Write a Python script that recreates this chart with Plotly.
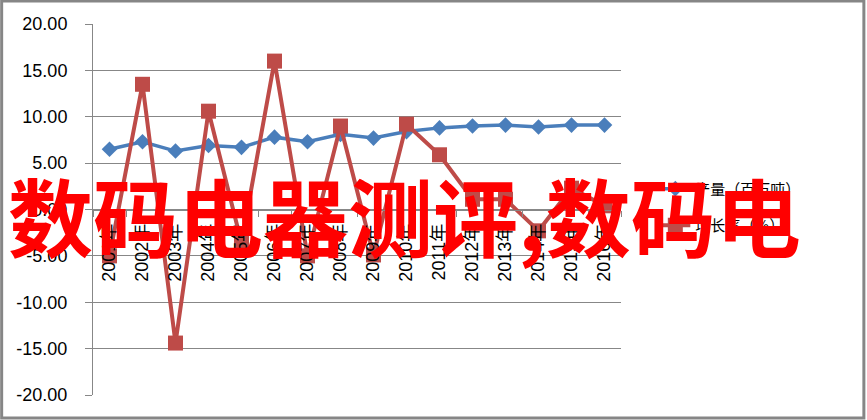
import plotly.graph_objects as go

years = [f"{y}年" for y in range(2001, 2017)]
output = [6.5, 7.3, 6.3, 6.9, 6.7, 7.8, 7.3, 8.1, 7.7, 8.4, 8.8, 9.0, 9.1, 8.9, 9.1, 9.1]
growth = [-5.0, 13.5, -14.4, 10.6, -3.6, 16.0, -5.0, 9.0, -4.9, 9.2, 5.9, 1.1, 1.1, -2.3, 2.3, 0.4]

y_ticks = [-20, -15, -10, -5, 0, 5, 10, 15, 20]
y_labels = [f"{v:.2f}" for v in y_ticks]

grey = "#878787"
blue = "#4A7EBB"
red = "#BE4B48"

fig = go.Figure()

fig.add_trace(go.Scatter(
    x=years, y=output, name="产量（百万吨）", legendgroup="a",
    mode="lines+markers",
    line=dict(color=blue, width=3.5),
    marker=dict(symbol="diamond", size=12, color=blue),
))
fig.add_trace(go.Scatter(
    x=years, y=growth, name="增长率（%）", legendgroup="b",
    mode="lines+markers",
    line=dict(color=red, width=4),
    marker=dict(symbol="square", size=15, color=red),
))

fig.update_layout(
    width=867, height=420,
    margin=dict(l=92.5, r=245.5, t=24, b=25),
    paper_bgcolor="white", plot_bgcolor="white",
    font=dict(family="Liberation Sans, Noto Sans CJK SC", size=18, color="black"),
    showlegend=True,
    legend=dict(
        x=1.065, y=0.6, xanchor="left", yanchor="top",
        font=dict(family="Noto Sans CJK SC", size=15, color="black"),
        tracegroupgap=14, bgcolor="rgba(0,0,0,0)",
    ),
    xaxis=dict(
        type="category", range=[-0.5, 15.5],
        anchor="free", position=0.5,
        showline=True, linecolor=grey, linewidth=1,
        ticks="outside", ticklen=6, tickcolor=grey, tickson="boundaries",
        tickangle=-90, showgrid=False, ticklabelstandoff=6,
        tickfont=dict(family="Liberation Sans, Noto Sans CJK SC", size=18),
    ),
    yaxis=dict(
        range=[-20, 20], tickvals=y_ticks, ticktext=y_labels,
        showline=True, linecolor=grey, linewidth=1,
        ticks="outside", ticklen=7, tickcolor=grey,
        showgrid=True, gridcolor=grey, gridwidth=1, zeroline=False,
        ticklabelstandoff=14,
    ),
)

# outer chart frame
fig.add_shape(type="rect", xref="paper", yref="paper",
              x0=-0.173, x1=1.460, y0=-0.062, y1=1.062,
              line=dict(color="#868686", width=3), layer="above")

# watermark overlay
fig.add_annotation(
    text="<b>数码电器测评,数码电</b>", xref="paper", yref="paper",
    x=0.59, y=0.49, xanchor="center", yanchor="middle", showarrow=False,
    font=dict(family="Noto Sans CJK SC", size=85, color="#FF0000"),
)

fig.write_html("out.html", config={"displayModeBar": False},
               post_script="document.body.style.margin='0';")
